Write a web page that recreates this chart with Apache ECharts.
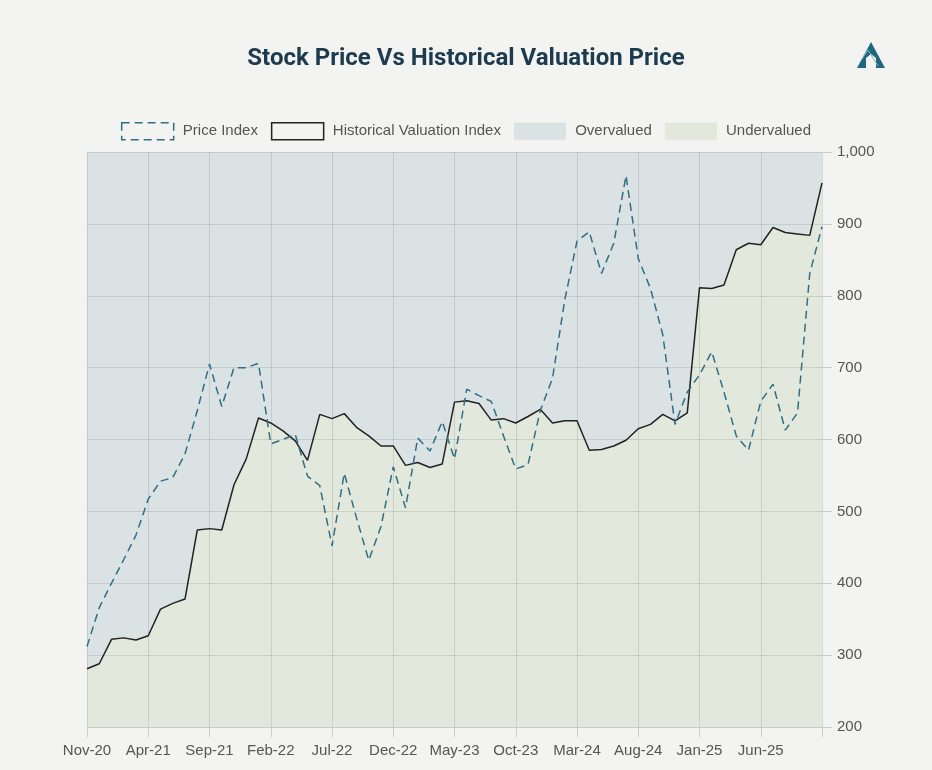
<!DOCTYPE html>
<html lang="en">
<head>
    <meta charset="UTF-8">
    <title>Stock Price Vs Historical Valuation Price</title>
    <script type="text/javascript" src="https://cdn.jsdelivr.net/npm/echarts@6/dist/echarts.min.js"></script>
    <style>
        html, body { margin: 0; padding: 0; background: #f3f3f1; }
    </style>
</head>
<body>
    <div id="chart" style="width:932px;height:770px;"></div>
</body>
<script type="text/javascript">
    var months = [
        'Nov-20', 'Dec-20', 'Jan-21', 'Feb-21', 'Mar-21', 'Apr-21', 'May-21', 'Jun-21', 'Jul-21', 'Aug-21',
        'Sep-21', 'Oct-21', 'Nov-21', 'Dec-21', 'Jan-22', 'Feb-22', 'Mar-22', 'Apr-22', 'May-22', 'Jun-22',
        'Jul-22', 'Aug-22', 'Sep-22', 'Oct-22', 'Nov-22', 'Dec-22', 'Jan-23', 'Feb-23', 'Mar-23', 'Apr-23',
        'May-23', 'Jun-23', 'Jul-23', 'Aug-23', 'Sep-23', 'Oct-23', 'Nov-23', 'Dec-23', 'Jan-24', 'Feb-24',
        'Mar-24', 'Apr-24', 'May-24', 'Jun-24', 'Jul-24', 'Aug-24', 'Sep-24', 'Oct-24', 'Nov-24', 'Dec-24',
        'Jan-25', 'Feb-25', 'Mar-25', 'Apr-25', 'May-25', 'Jun-25', 'Jul-25', 'Aug-25', 'Sep-25', 'Oct-25',
        'Nov-25'
    ];

    // dashed line
    var priceIndex = [
        312, 366, 400, 433, 467, 517, 542, 547, 580, 640,
        705, 646, 700, 700, 706, 594, 600, 607, 549, 536,
        452, 553, 491, 432, 479, 562, 505, 602, 584, 625,
        573, 670, 661, 653, 605, 559, 565, 640, 685, 794,
        876, 889, 831, 873, 967, 852, 810, 746, 621, 666,
        690, 722, 666, 605, 585, 653, 677, 613, 637, 831,
        896
    ];

    // solid black line
    var valuationIndex = [
        281, 288, 322, 324, 321, 327, 364, 372, 378, 474,
        476, 474, 537, 573, 630, 623, 612, 598, 571, 635,
        629, 636, 617, 605, 591, 591, 564, 568, 561, 566,
        652, 654, 650, 627, 629, 623, 632, 642, 623, 626,
        626, 585, 586, 591, 599, 615, 621, 635, 626, 637,
        811, 810, 815, 864, 873, 871, 895, 888, 886, 884,
        957
    ];

    var legendNames = ['Price Index', 'Historical Valuation Index', 'Overvalued', 'Undervalued'];

    var colors = {
        price: '#2f6f86',
        valuation: '#222222',
        over: '#dbe2e4',
        under: '#e2e8dc'
    };

    var myChart = echarts.init(document.getElementById('chart'));

    function showEvery5(idx) {
        return idx % 5 === 0;
    }

    var option = {
        backgroundColor: '#f3f3f1',
        animation: false,
        title: {
            text: 'Stock Price Vs Historical Valuation Price',
            left: 'center',
            top: 42,
            textStyle: {
                fontFamily: 'Roboto',
                fontWeight: 'bold',
                fontSize: 24,
                color: '#1d3b4f'
            }
        },
        legend: {
            top: 117,
            left: 'center',
            itemWidth: 52,
            itemHeight: 17,
            itemGap: 13,
            selectedMode: false,
            formatter: function (name) { return ' ' + name; },
            textStyle: {
                fontFamily: 'Liberation Sans',
                fontSize: 15,
                color: '#555'
            },
            data: [
                {name: legendNames[0], icon: 'rect', itemStyle: {color: 'transparent', borderColor: colors.price, borderWidth: 1.5, borderType: [8, 5]}},
                {name: legendNames[1], icon: 'rect', itemStyle: {color: 'transparent', borderColor: colors.valuation, borderWidth: 1.5}},
                {name: legendNames[2], icon: 'rect', itemStyle: {color: colors.over, borderWidth: 0}},
                {name: legendNames[3], icon: 'rect', itemStyle: {color: colors.under, borderWidth: 0}}
            ]
        },
        grid: {
            left: 87,
            right: 110,
            top: 152,
            bottom: 43,
            show: true,
            backgroundColor: colors.over,
            borderWidth: 0
        },
        xAxis: {
            type: 'category',
            data: months,
            boundaryGap: false,
            z: 5,
            axisLine: {lineStyle: {color: '#c9ccc8'}},
            axisTick: {show: true, interval: showEvery5, length: 10, lineStyle: {color: '#c9ccc8'}},
            axisLabel: {
                interval: function (idx) { return idx % 5 === 0 && idx < 60; },
                margin: 16,
                fontFamily: 'Liberation Sans',
                fontSize: 15,
                color: '#555'
            },
            splitLine: {show: true, interval: showEvery5, lineStyle: {color: 'rgba(0,0,0,0.1)'}}
        },
        yAxis: {
            type: 'value',
            position: 'right',
            min: 200,
            max: 1000,
            interval: 100,
            z: 5,
            axisLine: {show: false},
            axisTick: {show: true, length: 10, lineStyle: {color: '#c9ccc8'}},
            axisLabel: {
                margin: 15,
                fontFamily: 'Liberation Sans',
                fontSize: 15,
                color: '#555'
            },
            splitLine: {show: true, lineStyle: {color: 'rgba(0,0,0,0.1)'}}
        },
        series: [
            {
                name: legendNames[3],
                type: 'line',
                data: valuationIndex,
                symbol: 'none',
                color: colors.under,
                lineStyle: {width: 0},
                areaStyle: {color: colors.under, opacity: 1, origin: 'start'},
                z: 1
            },
            {
                name: legendNames[2],
                type: 'line',
                data: [],
                color: colors.over,
                symbol: 'none'
            },
            {
                name: legendNames[1],
                type: 'line',
                data: valuationIndex,
                symbol: 'none',
                color: colors.valuation,
                lineStyle: {width: 1.5, color: colors.valuation},
                z: 6
            },
            {
                name: legendNames[0],
                type: 'line',
                data: priceIndex,
                symbol: 'none',
                color: colors.price,
                lineStyle: {width: 1.5, type: [8, 5], color: colors.price},
                z: 6
            }
        ],
        graphic: [
            {
                type: 'polygon',
                shape: {points: [[857, 68], [871, 42], [885, 68]]},
                style: {fill: '#1f6680'}
            },
            {
                type: 'polygon',
                shape: {points: [[866, 68], [866, 58], [871, 54], [876, 58], [876, 68]]},
                style: {fill: '#f3f3f1'}
            },
            {
                type: 'polyline',
                shape: {points: [[860, 62], [868, 50], [878, 66]]},
                style: {stroke: '#8fb2c0', lineWidth: 1, fill: null}
            }
        ]
    };

    myChart.setOption(option);
</script>
</html>
